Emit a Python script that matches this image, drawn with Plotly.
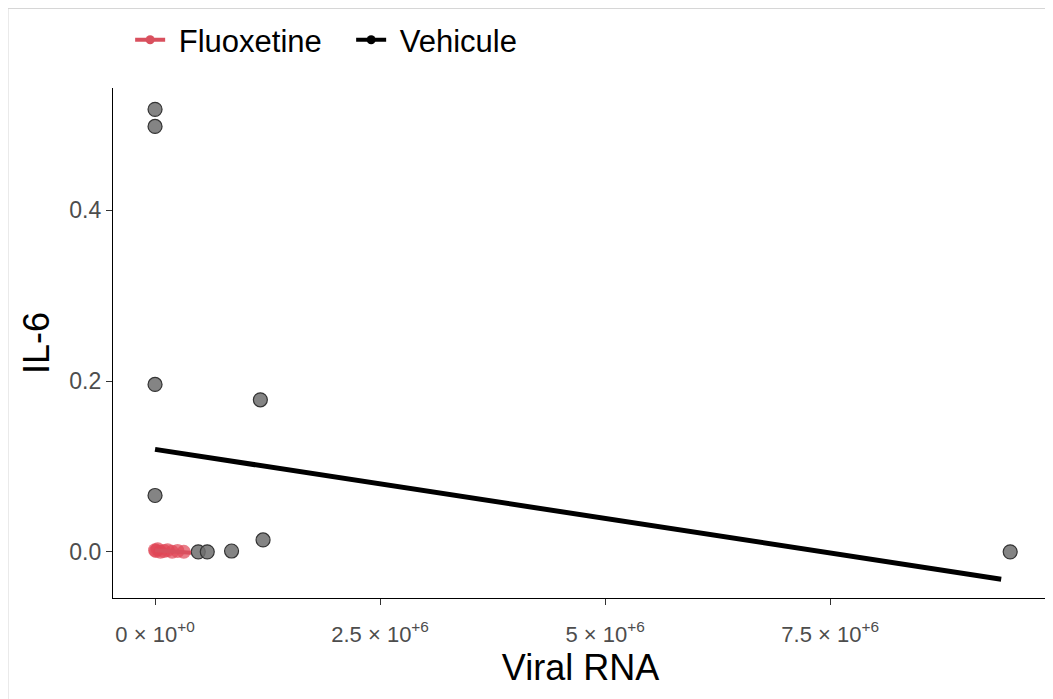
import plotly.graph_objects as go

# Data
veh_x = [0, 0, 0, 0, 1.17e6, 1.20e6, 0.85e6, 0.48e6, 0.58e6, 9.50e6]
veh_y = [0.518, 0.498, 0.196, 0.066, 0.178, 0.014, 0.001, 0.0, 0.0, 0.0]
flu_x = [0, 0.01e6, 0.03e6, 0.06e6, 0.10e6, 0.14e6, 0.19e6, 0.25e6, 0.32e6]
flu_y = [0.002, 0.001, 0.003, 0.0, 0.001, 0.002, 0.0, 0.001, 0.0]
veh_fit_x = [0, 9.40e6]
veh_fit_y = [0.120, -0.032]
flu_fit_x = [0, 0.40e6]
flu_fit_y = [0.002, -0.001]

x_ticks = [0, 2.5e6, 5e6, 7.5e6]
x_ticklabels = ["0 × 10<sup>+0</sup>", "2.5 × 10<sup>+6</sup>",
                "5 × 10<sup>+6</sup>", "7.5 × 10<sup>+6</sup>"]
y_ticks = [0.0, 0.2, 0.4]
y_ticklabels = ["0.0", "0.2", "0.4"]
series_names = ["Fluoxetine", "Vehicule"]

RED = "#D9505E"
fig = go.Figure()

fig.add_trace(go.Scatter(
    x=flu_x, y=flu_y, mode="markers", showlegend=False,
    marker=dict(size=14, color="rgba(224,70,85,0.7)",
                line=dict(width=0)),
))
fig.add_trace(go.Scatter(
    x=veh_x, y=veh_y, mode="markers", showlegend=False,
    marker=dict(size=14, color="rgba(110,110,110,0.85)",
                line=dict(width=1.2, color="#333333")),
))
fig.add_trace(go.Scatter(
    x=flu_fit_x, y=flu_fit_y, mode="lines", showlegend=False,
    line=dict(color=RED, width=4),
))
fig.add_trace(go.Scatter(
    x=veh_fit_x, y=veh_fit_y, mode="lines", showlegend=False,
    line=dict(color="black", width=5),
))
# legend entries (line + point, as in the reference key)
fig.add_trace(go.Scatter(
    x=[None], y=[None], mode="lines+markers", name="\u00a0" + series_names[0],
    line=dict(color=RED, width=4), marker=dict(size=9, color=RED),
))
fig.add_trace(go.Scatter(
    x=[None], y=[None], mode="lines+markers", name="\u00a0" + series_names[1],
    line=dict(color="black", width=4), marker=dict(size=9, color="black"),
))

# faint frame around the whole image
fig.add_shape(type="rect", xref="paper", yref="paper",
              x0=-0.1123, x1=1.2, y0=-0.5, y1=1.156,
              line=dict(color="#d4d4d4", width=1), layer="below")

fig.update_layout(
    width=1053, height=699,
    paper_bgcolor="white", plot_bgcolor="white",
    margin=dict(l=105, r=13, t=80, b=109, autoexpand=False),
    font=dict(family="Liberation Sans, Arial, sans-serif", color="black"),
    legend=dict(orientation="h", x=0.116, xanchor="left", y=0.954,
                yanchor="middle", yref="container", xref="container",
                font=dict(size=31, color="black"), entrywidth=176,
                itemwidth=30, bgcolor="rgba(0,0,0,0)"),
    xaxis=dict(range=[-0.467e6, 9.92e6], tickvals=x_ticks,
               ticktext=x_ticklabels, showgrid=False, zeroline=False,
               showline=True, linecolor="black", linewidth=1.3,
               ticks="outside", ticklen=6, tickcolor="#333333",
               ticklabelstandoff=10,
               tickfont=dict(size=22, color="#4d4d4d"), automargin=False,
               title=dict(text="Viral RNA", font=dict(size=36, color="black"),
                          standoff=8)),
    yaxis=dict(range=[-0.054, 0.543], tickvals=y_ticks,
               ticktext=y_ticklabels, showgrid=False, zeroline=False,
               showline=True, linecolor="black", linewidth=1.3,
               ticks="outside", ticklen=6, tickcolor="#333333",
               tickfont=dict(size=23, color="#4d4d4d"), automargin=False,
               title=dict(text="IL-6", font=dict(size=36, color="black"),
                          standoff=8)),
)

fig.write_html("out.html")
